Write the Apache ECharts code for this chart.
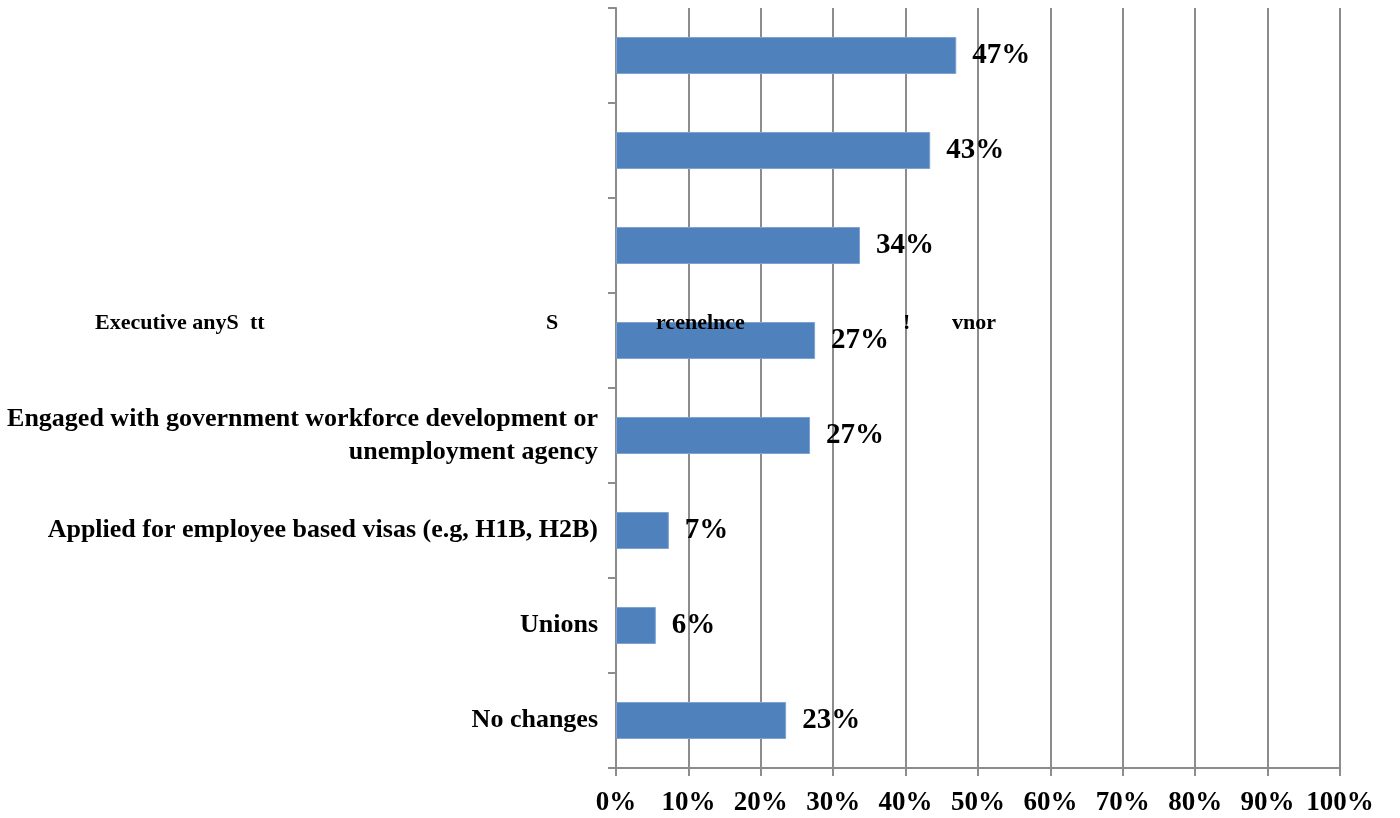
<!DOCTYPE html>
<html>
<head>
<meta charset="utf-8">
<script src="https://cdn.jsdelivr.net/npm/echarts@6/dist/echarts.min.js"></script>
<style>html,body{margin:0;padding:0;background:#fff}#c{width:1400px;height:818px}</style>
</head>
<body>
<div id="c"></div>
<script>
const categories = ['', '', '', 'Executive anyS tt S rcenelnce ! vnor',
  'Engaged with government workforce development or\nunemployment agency',
  'Applied for employee based visas (e.g, H1B, H2B)', 'Unions', 'No changes'];
const values = [47.0, 43.4, 33.7, 27.5, 26.8, 7.3, 5.5, 23.5];
const valueLabels = ['47%', '43%', '34%', '27%', '27%', '7%', '6%', '23%'];
const tickLabels = ['0%','10%','20%','30%','40%','50%','60%','70%','80%','90%','100%'];
// garbled fragments of the 4th category label, as seen in the picture
const fragments = [
  {text: 'Executive anyS', x: 95},
  {text: 'tt', x: 250},
  {text: 'S', x: 546},
  {text: 'rcenelnce', x: 656},
  {text: '!', x: 903},
  {text: 'vnor', x: 952}
];
const FONT = '"Liberation Serif", "DejaVu Serif", serif';
const chart = echarts.init(document.getElementById('c'));
chart.setOption({
  animation: false,
  grid: {left: 616, right: 60, top: 8, bottom: 50, containLabel: false},
  xAxis: {
    type: 'value', min: 0, max: 100, interval: 10,
    axisLine: {show: true, lineStyle: {color: '#8c8c8c', width: 2}},
    axisTick: {show: true, length: 8, lineStyle: {color: '#8c8c8c', width: 2}},
    splitLine: {show: true, lineStyle: {color: '#8c8c8c', width: 2}},
    axisLabel: {
      margin: 22, color: '#000', fontFamily: FONT, fontWeight: 'bold', fontSize: 27,
      formatter: v => tickLabels[Math.round(v / 10)]
    }
  },
  yAxis: {
    type: 'category', inverse: true, data: categories,
    axisLine: {show: true, onZero: false, lineStyle: {color: '#8c8c8c', width: 2}},
    axisTick: {show: true, length: 8, lineStyle: {color: '#8c8c8c', width: 2}},
    axisLabel: {
      margin: 18, color: '#000', fontFamily: FONT, fontWeight: 'bold', fontSize: 26,
      align: 'right', lineHeight: 33,
      formatter: (v, i) => (i === 3 ? '' : v)
    }
  },
  series: [{
    type: 'bar', data: values, barWidth: '39%',
    itemStyle: {color: '#4f81bd', borderColor: '#7ea3d2', borderWidth: 1},
    label: {
      show: true, position: 'right', distance: 16, color: '#000',
      fontFamily: FONT, fontWeight: 'bold', fontSize: 29,
      formatter: p => valueLabels[p.dataIndex]
    }
  }]
});
const yPix = chart.convertToPixel({yAxisIndex: 0}, 3) - 15;
chart.setOption({
  graphic: fragments.map(f => ({
    type: 'text', left: f.x, top: yPix - 13, z: 100,
    style: {text: f.text, fill: '#000', font: 'bold 22px ' + FONT}
  }))
});
</script>
</body>
</html>
